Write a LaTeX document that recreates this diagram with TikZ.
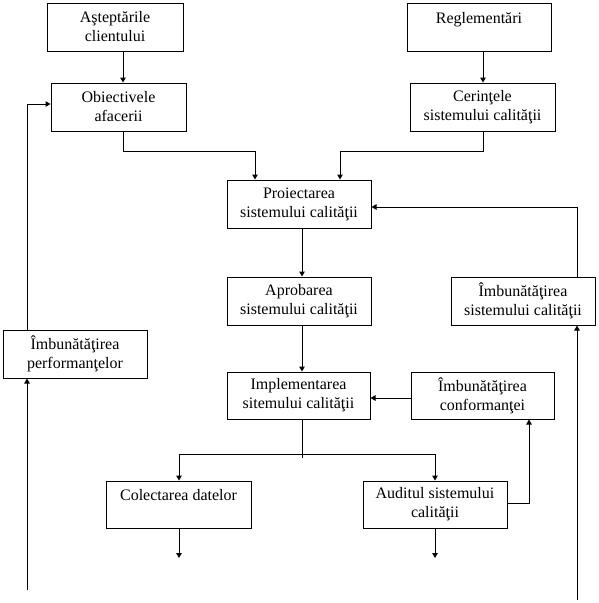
\documentclass[tikz,border=0pt]{standalone}
\usepackage{fontspec}
\setmainfont{Liberation Serif}
\usetikzlibrary{arrows.meta,calc}
\begin{document}
\begin{tikzpicture}[x=1pt,y=-1pt,
  box/.style={draw,line width=1pt,inner sep=0pt,minimum height=48pt,align=center,
    font=\fontsize{16}{19}\selectfont},
  arr/.style={line width=1pt,-{Triangle[width=5.5pt,length=5pt]}},
  ln/.style={line width=1pt}]
\useasboundingbox (0,0) rectangle (598,603);
\node[box,minimum width=136pt] (A) at (115,27) {Aşteptările\\clientului};
\node[box,minimum width=144pt] (R) at (479,27) {Reglementări\\\mbox{}};
\node[box,minimum width=135pt] (O) at (118.5,107) {Obiectivele\\afacerii};
\node[box,minimum width=145pt] (C) at (482.5,107) {Cerinţele\\sistemului calităţii};
\node[box,minimum width=144pt] (P) at (299,204) {Proiectarea\\sistemului calităţii};
\node[box,minimum width=144pt] (Ap) at (299,301) {Aprobarea\\sistemului calităţii};
\node[box,minimum width=144pt] (IS) at (523,301) {Îmbunătăţirea\\sistemului calităţii};
\node[box,minimum width=144pt] (IP) at (75,354) {Îmbunătăţirea\\performanţelor};
\node[box,minimum width=143pt,minimum height=47pt] (Im) at (298.5,395.5) {Implementarea\\sitemului calităţii};
\node[box,minimum width=143pt,minimum height=47pt] (IC) at (482.5,395.5) {Îmbunătăţirea\\conformanţei};
\node[box,minimum width=145pt,minimum height=47pt] (Co) at (178.5,504.5) {Colectarea datelor\\\mbox{}};
\node[box,minimum width=144pt,minimum height=47pt] (Au) at (435,504.5) {Auditul sistemului\\calităţii};
% helper coordinates
\coordinate (x27) at (27,0);
\coordinate (x123) at (123,0);
\coordinate (x179) at (179,0);
\coordinate (x255) at (255,0);
\coordinate (x302) at (302,0);
\coordinate (x340) at (340,0);
\coordinate (x435) at (435,0);
\coordinate (x483) at (483,0);
\coordinate (x529) at (529,0);
\coordinate (x577) at (577,0);
\coordinate (y104) at (0,104);
\coordinate (y151) at (0,151);
\coordinate (y207) at (0,207);
\coordinate (y398) at (0,398);
\coordinate (y454) at (0,454);
\coordinate (y503) at (0,503);
\coordinate (endCo) at (179,558);
\coordinate (endAu) at (435,558);
\coordinate (startL) at (27,590);
\coordinate (startR) at (577,600);
\coordinate (stub) at (302,458);
% connectors
\draw[arr] (A.south -| x123) -- (O.north -| x123);
\draw[arr] (R.south -| x483) -- (C.north -| x483);
\draw[arr] (O.south -| x123) -- (x123 |- y151) -- (x255 |- y151) -- (P.north -| x255);
\draw[arr] (C.south -| x483) -- (x483 |- y151) -- (x340 |- y151) -- (P.north -| x340);
\draw[arr] (P.south -| x302) -- (Ap.north -| x302);
\draw[arr] (Ap.south -| x302) -- (Im.north -| x302);
\draw[ln] (Im.south -| x302) -- (stub);
\draw[arr] (x302 |- y454) -- (x179 |- y454) -- (Co.north -| x179);
\draw[arr] (x302 |- y454) -- (x435 |- y454) -- (Au.north -| x435);
\draw[arr] (Co.south -| x179) -- (endCo);
\draw[arr] (Au.south -| x435) -- (endAu);
\draw[arr] (Au.east |- y503) -- (x529 |- y503) -- (IC.south -| x529);
\draw[arr] (IC.west |- y398) -- (Im.east |- y398);
\draw[arr] (startR) -- (IS.south -| x577);
\draw[arr] (IS.north -| x577) -- (x577 |- y207) -- (P.east |- y207);
\draw[arr] (startL) -- (IP.south -| x27);
\draw[arr] (IP.north -| x27) -- (x27 |- y104) -- (O.west |- y104);
\end{tikzpicture}
\end{document}
